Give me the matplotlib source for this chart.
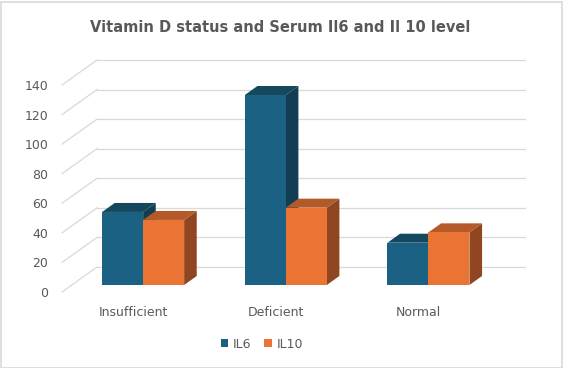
import matplotlib
matplotlib.use('Agg')
import matplotlib.pyplot as plt
from matplotlib.patches import Polygon, Patch, Rectangle

categories = ['Insufficient', 'Deficient', 'Normal']
il6 = [49.4, 128.5, 28.6]
il10 = [44.0, 52.3, 35.6]
yticks = [0, 20, 40, 60, 80, 100, 120, 140]
series_names = ['IL6', 'IL10']

# colors: front, top, side
c_il6 = ('#1A6183', '#14485F', '#123E53')
c_il10 = ('#EA7434', '#B35A28', '#914622')
grid_c = '#D9D9D9'
text_c = '#595959'

W, H = 563, 368
fig = plt.figure(figsize=(W / 100, H / 100), dpi=100)
fig.patch.set_facecolor('white')
ax = fig.add_axes([62 / W, (H - 292) / H, 428 / W, 207 / H])
ax.set_xlim(0, len(categories))
ax.set_ylim(0, max(yticks))
ax.set_facecolor('none')

# depth of the oblique 3D projection in data units
px_per_x = 428 / len(categories)
px_per_y = 207 / max(yticks)
Dx = 35 / px_per_x
Dy = 25 / px_per_y
z0, z1 = 0.28, 0.64
bw = 41 / px_per_x

# gridlines: side wall diagonals and back wall
for v in yticks:
    ax.plot([0, Dx], [v, v + Dy], color=grid_c, lw=0.9, clip_on=False, zorder=1)
    ax.plot([Dx, len(categories) + Dx], [v + Dy, v + Dy], color=grid_c, lw=0.9,
            clip_on=False, zorder=1)


def bar3d(x0, h, cols, z):
    x1 = x0 + bw
    f, t, s = cols
    front = Polygon([(x0 + z0 * Dx, z0 * Dy), (x1 + z0 * Dx, z0 * Dy),
                     (x1 + z0 * Dx, h + z0 * Dy), (x0 + z0 * Dx, h + z0 * Dy)],
                    closed=True, facecolor=f, edgecolor='none', zorder=z, clip_on=False)
    top = Polygon([(x0 + z0 * Dx, h + z0 * Dy), (x1 + z0 * Dx, h + z0 * Dy),
                   (x1 + z1 * Dx, h + z1 * Dy), (x0 + z1 * Dx, h + z1 * Dy)],
                  closed=True, facecolor=t, edgecolor='none', zorder=z, clip_on=False)
    side = Polygon([(x1 + z0 * Dx, z0 * Dy), (x1 + z1 * Dx, z1 * Dy),
                    (x1 + z1 * Dx, h + z1 * Dy), (x1 + z0 * Dx, h + z0 * Dy)],
                   closed=True, facecolor=s, edgecolor='none', zorder=z, clip_on=False)
    for p in (side, top, front):
        ax.add_patch(p)


z = 2
for i, cat in enumerate(categories):
    xc = i + 0.5
    bar3d(xc - bw, il6[i], c_il6, z)
    z += 1
    bar3d(xc, il10[i], c_il10, z)
    z += 1

ax.set_yticks(yticks)
ax.set_yticklabels([str(v) for v in yticks], fontsize=9, color=text_c)
ax.set_xticks([i + 0.5 for i in range(len(categories))])
ax.set_xticklabels(categories, fontsize=9, color=text_c)
ax.tick_params(axis='y', length=0, pad=10)
ax.tick_params(axis='x', length=0, pad=10)
for sp in ax.spines.values():
    sp.set_visible(False)

fig.text(280 / W, 1 - 27 / H, 'Vitamin D status and Serum Il6 and Il 10 level',
         ha='center', va='center', fontsize=10.5, fontweight='bold', color=text_c)

handles = [Patch(facecolor=c_il6[0]), Patch(facecolor=c_il10[0])]
fig.legend(handles, series_names, loc='center', bbox_to_anchor=(262 / W, 1 - 344 / H),
           ncol=2, frameon=False, fontsize=9, handlelength=0.6, handleheight=0.6,
           handletextpad=0.4, columnspacing=1.0, labelcolor=text_c)

fig.add_artist(Rectangle((0.5 / W, 0.5 / H), (W - 2) / W, (H - 2) / H,
                         transform=fig.transFigure, facecolor='none',
                         edgecolor=grid_c, lw=1.2))

fig.savefig('out.png', dpi=100)
